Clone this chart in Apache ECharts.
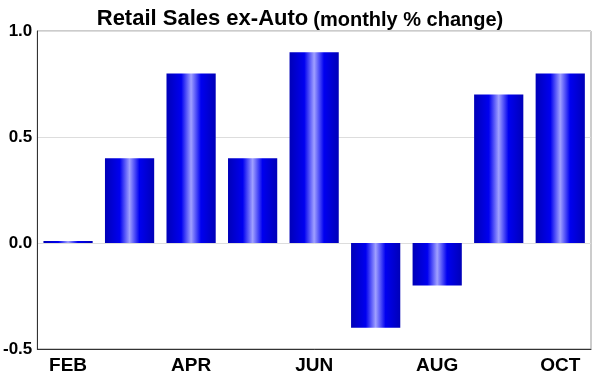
<!DOCTYPE html>
<html>
<head>
<meta charset="utf-8">
<script src="https://cdn.jsdelivr.net/npm/echarts@6/dist/echarts.min.js"></script>
<style>
  html, body { margin: 0; padding: 0; background: #fff; }
  #main { width: 600px; height: 376px; }
</style>
</head>
<body>
<div id="main"></div>
<script>
var months = ['FEB', 'MAR', 'APR', 'MAY', 'JUN', 'JUL', 'AUG', 'SEP', 'OCT'];
var changes = [0.01, 0.4, 0.8, 0.4, 0.9, -0.4, -0.2, 0.7, 0.8];
var yTicks = [-0.5, 0.0, 0.5, 1.0];

var chart = echarts.init(document.getElementById('main'), null, { renderer: 'canvas' });

var barFill = new echarts.graphic.LinearGradient(0, 0, 1, 0, [
  { offset: 0, color: '#0000b8' },
  { offset: 0.3, color: '#0000f0' },
  { offset: 0.5, color: '#a0a0ff' },
  { offset: 0.7, color: '#0000f0' },
  { offset: 1, color: '#0000b8' }
]);

var option = {
  animation: false,
  backgroundColor: '#fff',
  title: {
    text: '{a|Retail Sales ex-Auto} {b|(monthly % change)}',
    left: 'center',
    top: 2,
    textStyle: {
      rich: {
        a: { fontFamily: 'Liberation Sans', fontWeight: 'bold', fontSize: 22, color: '#000' },
        b: { fontFamily: 'Liberation Sans', fontWeight: 'bold', fontSize: 20, color: '#000', padding: [3, 0, 0, 0] }
      }
    }
  },
  grid: {
    left: 35,
    right: 9,
    top: 31,
    bottom: 27,
    show: true,
    borderColor: '#999',
    borderWidth: 1
  },
  xAxis: {
    type: 'category',
    data: months,
    axisLine: { show: true, onZero: false, lineStyle: { color: '#333', width: 1 } },
    axisTick: { show: false },
    axisLabel: {
      interval: 1,
      margin: 7,
      color: '#000',
      fontFamily: 'Liberation Sans',
      fontWeight: 'bold',
      fontSize: 19
    }
  },
  yAxis: {
    type: 'value',
    min: -0.5,
    max: 1.0,
    interval: 0.5,
    axisLine: { show: true, lineStyle: { color: '#333', width: 1 } },
    axisTick: { show: false },
    splitLine: { show: true, lineStyle: { color: '#ddd', width: 1 } },
    axisLabel: {
      margin: 5,
      color: '#000',
      fontFamily: 'Liberation Sans',
      fontWeight: 'bold',
      fontSize: 17,
      formatter: function (v) {
        return yTicks.indexOf(v) >= 0 ? v.toFixed(1) : '';
      }
    }
  },
  series: [{
    type: 'bar',
    data: changes,
    barWidth: '80%',
    itemStyle: { color: barFill }
  }]
};

chart.setOption(option);
</script>
</body>
</html>
